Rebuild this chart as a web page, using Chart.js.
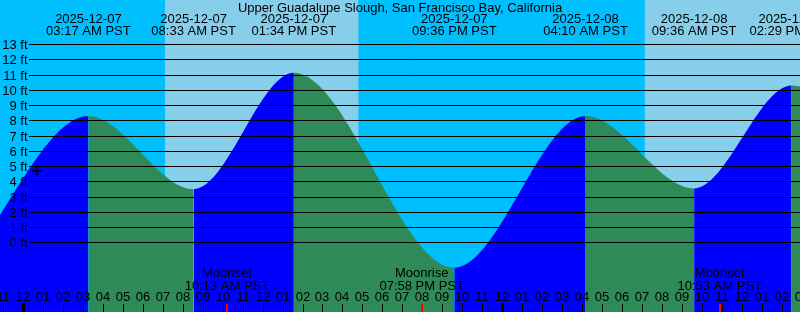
<!DOCTYPE html>
<html>
<head>
<meta charset="utf-8">
<script src="https://cdn.jsdelivr.net/npm/chart.js@4.4.0/dist/chart.umd.min.js"></script>
<style>
  html, body { margin: 0; padding: 0; background: #fff; }
  #wrap { width: 800px; height: 312px; position: relative; }
</style>
</head>
<body>
<div id="wrap"><canvas id="tideChart"></canvas></div>
<script>
// all times are hours since 2025-12-07 00:00 PST
const tideHours = [-2.65, 3.283, 8.55, 13.567, 21.6, 28.167, 33.6, 38.483, 46.4];
const tideFeet = [-0.95, 8.35, 3.55, 11.18, -1.6, 8.35, 3.6, 10.35, -1.2];

const extremeHours = [3.283, 8.55, 13.567, 21.6, 28.167, 33.6, 38.483];
const extremeDates = ["2025-12-07", "2025-12-07", "2025-12-07", "2025-12-07", "2025-12-08", "2025-12-08", "2025-12-08"];
const extremeTimes = ["03:17 AM PST", "08:33 AM PST", "01:34 PM PST", "09:36 PM PST", "04:10 AM PST", "09:36 AM PST", "02:29 PM PST"];

const dayStarts = [7.117, 31.133];
const dayEnds = [16.8, 40.8];

const moonHours = [10.217, 19.967, 34.883];
const moonNames = ["Moonset", "Moonrise", "Moonset"];
const moonTimes = ["10:13 AM PST", "07:58 PM PST", "10:53 AM PST"];

const feetTicks = [0, 1, 2, 3, 4, 5, 6, 7, 8, 9, 10, 11, 12, 13];
const hourTicks = [];
for (let h = -1; h <= 39; h++) hourTicks.push(h);

const nowHour = 0.71;
const nowFeet = 4.76;

const title = "Upper Guadalupe Slough, San Francisco Bay, California";

const NIGHT = "#00bfff";
const DAY = "#87ceeb";
const RISING = "#0000ff";
const FALLING = "#2e8b57";
const FONT = "13px 'Liberation Sans', Arial, sans-serif";

// sky colours behind the water
const skyPlugin = {
  id: "sky",
  beforeDraw(chart) {
    const { ctx, chartArea, scales } = chart;
    ctx.save();
    ctx.fillStyle = NIGHT;
    ctx.fillRect(chartArea.left, chartArea.top, chartArea.width, chartArea.height);
    ctx.fillStyle = DAY;
    for (let i = 0; i < dayStarts.length; i++) {
      const x0 = scales.x.getPixelForValue(dayStarts[i]);
      const x1 = scales.x.getPixelForValue(dayEnds[i]);
      ctx.fillRect(x0, chartArea.top, x1 - x0, chartArea.height);
    }
    ctx.restore();
  },
};

// grid, labels and time ticks on top of the water
const overlayPlugin = {
  id: "overlay",
  afterDatasetsDraw(chart) {
    const { ctx, chartArea, scales } = chart;
    const xs = scales.x;
    const ys = scales.y;
    ctx.save();
    ctx.font = FONT;
    ctx.fillStyle = "#000";
    ctx.strokeStyle = "#000";
    ctx.lineWidth = 1;

    // feet gridlines
    ctx.textAlign = "right";
    ctx.textBaseline = "middle";
    feetTicks.forEach((ft) => {
      const y = Math.round(ys.getPixelForValue(ft)) - 0.5;
      ctx.beginPath();
      ctx.moveTo(29, y);
      ctx.lineTo(chartArea.right, y);
      ctx.stroke();
      ctx.fillText(ft + " ft", 27.5, y + 0.5);
    });

    // title and high/low labels
    ctx.textAlign = "center";
    ctx.fillText(title, chartArea.width / 2, 8);
    extremeHours.forEach((h, i) => {
      const x = xs.getPixelForValue(h);
      ctx.fillText(extremeDates[i], x, 19.5);
      ctx.fillText(extremeTimes[i], x, 31.5);
    });

    // moon events
    moonHours.forEach((h, i) => {
      const x = xs.getPixelForValue(h);
      ctx.fillText(moonNames[i], x, 273.5);
      ctx.fillText(moonTimes[i], x, 286);
    });

    // hour labels and ticks
    hourTicks.forEach((h) => {
      const x = Math.round(xs.getPixelForValue(h));
      const hr = ((h % 12) + 12) % 12;
      const label = String(hr === 0 ? 12 : hr).padStart(2, "0");
      ctx.fillText(label, x, 297.5);
      const midnight = ((h % 24) + 24) % 24 === 0;
      if (midnight) {
        ctx.fillRect(x - 1, 303, 3, chartArea.bottom - 303);
      } else {
        ctx.fillRect(x, 304, 1, chartArea.bottom - 304);
      }
    });
    ctx.fillStyle = "#ff0000";
    moonHours.forEach((h) => {
      const x = Math.round(xs.getPixelForValue(h));
      ctx.fillRect(x - 1, 304, 2, chartArea.bottom - 304);
    });
    ctx.restore();
  },
};

const tidePoints = tideHours.map((h, i) => ({ x: h, y: tideFeet[i] }));

const ctx = document.getElementById("tideChart").getContext("2d");
const tideChart = new Chart(ctx, {
  type: "line",
  data: {
    datasets: [
      {
        data: [{ x: nowHour, y: nowFeet }],
        showLine: false,
        pointStyle: "cross",
        pointRadius: 5,
        borderColor: "#000",
        borderWidth: 1.5,
      },
      {
        data: tidePoints,
        fill: "start",
        borderWidth: 0,
        borderColor: "rgba(0,0,0,0)",
        pointRadius: 0,
        cubicInterpolationMode: "monotone",
        backgroundColor: RISING,
        segment: {
          backgroundColor: (c) => (c.p1.parsed.y > c.p0.parsed.y ? RISING : FALLING),
        },
      },
    ],
  },
  options: {
    responsive: true,
    maintainAspectRatio: false,
    animation: false,
    layout: { padding: 0, autoPadding: false },
    scales: {
      x: { type: "linear", min: -1.141, max: 38.9, display: false },
      y: { type: "linear", min: -4.5, max: 15.95, display: false },
    },
    plugins: {
      legend: { display: false },
      tooltip: { enabled: false },
    },
  },
  plugins: [skyPlugin, overlayPlugin],
});
</script>
</body>
</html>
